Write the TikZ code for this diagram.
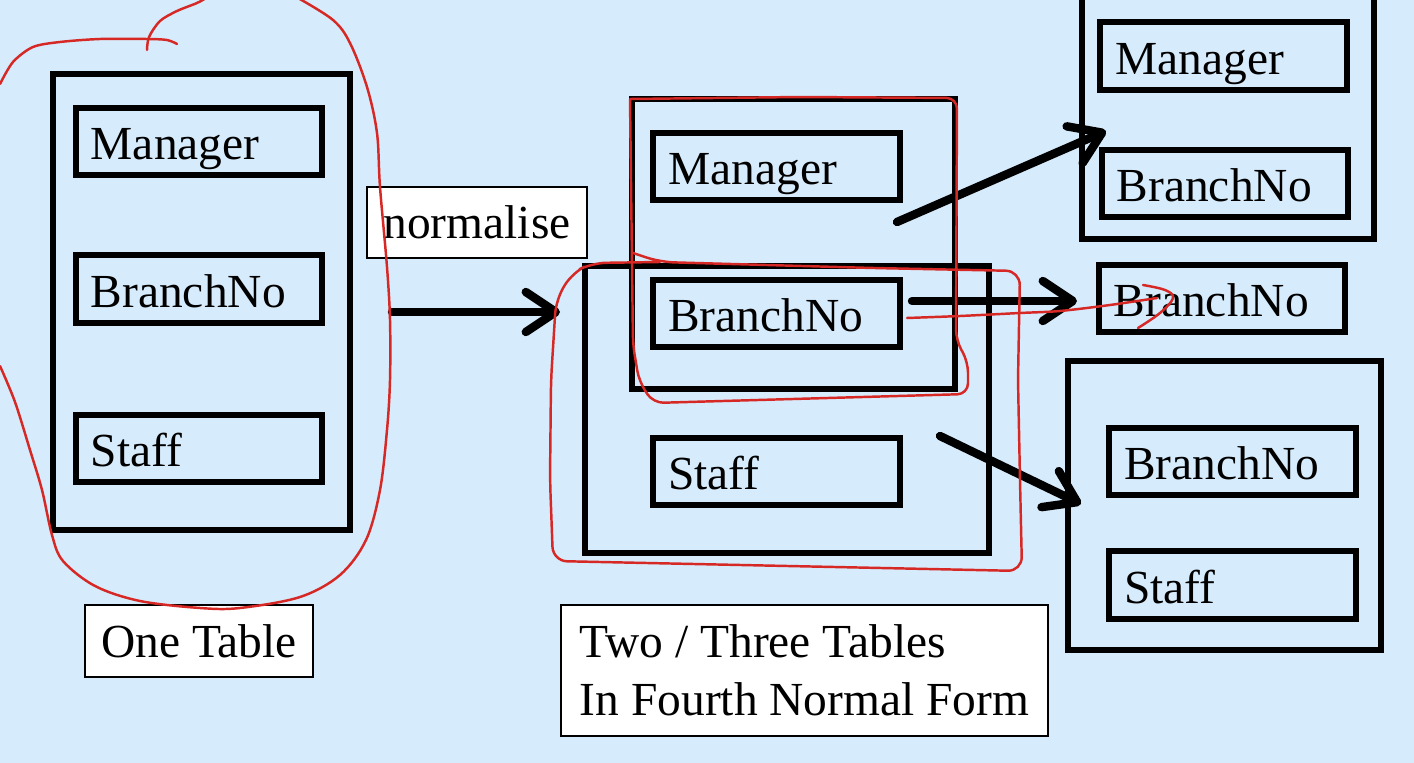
\documentclass[tikz,border=0pt]{standalone}
\usepackage{fontspec}
\setmainfont{Liberation Serif}
\newfontfamily\slideserif{Liberation Serif}
\usetikzlibrary{arrows.meta}
\definecolor{slideblue}{RGB}{214,235,251}
\definecolor{inkred}{RGB}{214,40,36}
\newcommand{\slidefont}{\slideserif\fontsize{27}{33}\selectfont}
\tikzset{
  field/.style={draw, line width=3.3pt, minimum width=4.93cm, minimum height=1.35cm,
    text width=4.33cm, inner xsep=0.3cm, inner ysep=2pt, text height=24pt, text depth=3pt,
    align=left, font=\slidefont},
  tablebox/.style={line width=3.3pt},
  caption/.style={draw, fill=white, line width=0.8pt, font=\slidefont},
  pointer/.style={line width=4.8pt, line cap=round,
    -{Straight Barb[length=0.6cm, width=0.8cm, round]}},
  ink/.style={inkred, line width=1.4pt, line cap=round, line join=round}
}

\begin{document}
\begin{tikzpicture}[x=0.02cm, y=-0.02cm]
			%%%%% START %%%%%
			
			\fill[slideblue] (0,0) rectangle (1414,763);
			\useasboundingbox (0,0) rectangle (1414,763);
			
			% one table
			\draw[tablebox] (52.75,73.75) rectangle (350.25,530.25);
			\node[field] (lman) at (199,141.5) {Manager};
			\node[field] (lbra) at (199,289) {BranchNo};
			\node[field] (lsta) at (199,448.5) {Staff};
			\node[caption, minimum width=4.56cm, minimum height=1.44cm] (onetab) at (199,641) {One Table};
			
			\node[caption, minimum width=4.4cm, minimum height=1.42cm] (norm) at (477,222.5) {normalise};
			\coordinate (n1) at (392,312);
			\coordinate (n2) at (560,312);
			\draw[pointer] (n1) -- (n2);
			
			% two / three tables
			\draw[tablebox] (584.75,265.75) rectangle (989.25,553.25);
			\draw[tablebox] (631.75,98.75) rectangle (955.25,389.25);
			\node[field] (mman) at (776.5,166.5) {Manager};
			\node[field] (mbra) at (776.5,313.5) {BranchNo};
			\node[field] (msta) at (776.5,471.5) {Staff};
			\node[caption, minimum width=9.74cm, minimum height=2.62cm, align=left]
			  (fourth) at (804.5,670.5) {Two / Three Tables\\In Fourth Normal Form};
			
			% fourth normal form
			\draw[tablebox] (1081.75,-10) rectangle (1374.25,239.25);
			\node[field] (rman) at (1223.5,56) {Manager};
			\node[field] (rbra) at (1225,183.5) {BranchNo};
			\node[field] (sbra) at (1222,298.5) {BranchNo};
			\draw[tablebox] (1067.75,360.75) rectangle (1381.25,650.25);
			\node[field] (tbra) at (1232.5,461.5) {BranchNo};
			\node[field] (tsta) at (1232.5,585) {Staff};
			
			\coordinate (p1) at (897,222);
			\coordinate (p2) at (1106,131);
			\coordinate (q1) at (912,301);
			\coordinate (q2) at (1077,301);
			\coordinate (r1) at (940,436);
			\coordinate (r2) at (1081,504);
			\draw[pointer] (p1) -- (p2);
			\draw[pointer] (q1) -- (q2);
			\draw[pointer] (r1) -- (r2);
			
			% red ink
			\draw[ink] plot[smooth, tension=0.5] coordinates {(0,84) (13,62) (33,47) (60,42) (100,39) (147,39) (167,40) (177,44)};
			\draw[ink] plot[smooth, tension=0.5] coordinates {(147,50) (149,37) (160,21) (177,11) (197,3) (206,-2)};
			\draw[ink] plot[smooth, tension=0.55] coordinates {(298,-2) (333,20) (350,43) (367,87) (377,133) (380,187) (387,267)
			  (390,320) (390,380) (387,430) (380,490) (366,540) (340,575) (300,597) (240,608) (200,608)
			  (140,601) (95,586) (63,561) (52,535) (42,490) (30,450) (15,402) (0,366)};
			\draw[ink, rounded corners=6pt] (630,99) -- (800,97) -- (957,98) -- (956,340)
			  -- (968,362) -- (968,394) -- (653,403) -- (639,381) -- (633,345) -- (630,99);
			\draw[ink, rounded corners=8pt] (633,253) -- (660,262) -- (873,268) -- (1020,271)
			  -- (1018,380) -- (1020,480) -- (1022,571) -- (553,561) -- (550,480) -- (551,380)
			  -- (556,300) -- (572,273) -- (592,263) -- (660,262);
			\draw[ink] plot[smooth, tension=0.5] coordinates {(907,318) (960,316) (1020,313) (1060,311) (1110,305) (1157,298)};
			\draw[ink] plot[smooth, tension=0.6] coordinates {(1143,285) (1165,290) (1173,298) (1160,313) (1138,328)};
			
			%%%%% END %%%%%
\end{tikzpicture}
\end{document}
